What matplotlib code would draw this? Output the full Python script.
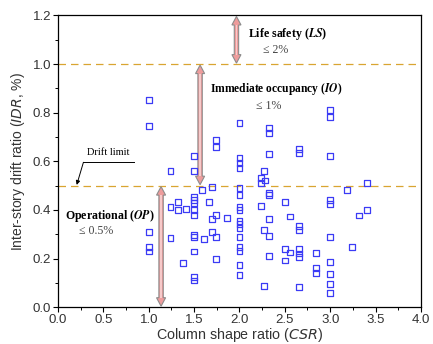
import numpy as np
import matplotlib.pyplot as plt
from matplotlib.patches import Polygon
from matplotlib.ticker import MultipleLocator, FormatStrFormatter

# column shape ratio (CSR) and inter-story drift ratio (IDR, %)
csr = [1.0, 1.0, 1.0, 1.0, 1.0,
       1.24, 1.24, 1.24, 1.32, 1.32, 1.41, 1.38,
       1.5, 1.5, 1.5, 1.5, 1.5, 1.5, 1.5, 1.5, 1.5, 1.5, 1.5, 1.5,
       1.59, 1.61, 1.66, 1.7, 1.7, 1.7, 1.74, 1.74, 1.74, 1.74, 1.74, 1.86,
       2.0, 2.0, 2.0, 2.0, 2.0, 2.0, 2.0, 2.0, 2.0, 2.0, 2.0, 2.0, 2.0, 2.0, 2.0, 2.0,
       2.24, 2.24, 2.24, 2.27, 2.27, 2.28, 2.27,
       2.33, 2.33, 2.33, 2.33, 2.33, 2.33, 2.33, 2.33,
       2.5, 2.5, 2.5, 2.56, 2.56,
       2.66, 2.66, 2.66, 2.66, 2.66, 2.66, 2.66, 2.66,
       2.84, 2.84, 2.84,
       3.0, 3.0, 3.0, 3.0, 3.0, 3.0, 3.0, 3.0, 3.0, 3.0,
       3.19, 3.24, 3.32, 3.41, 3.41]
idr = [0.853, 0.747, 0.310, 0.249, 0.229,
       0.562, 0.411, 0.285, 0.433, 0.399, 0.404, 0.181,
       0.622, 0.560, 0.452, 0.441, 0.430, 0.400, 0.381, 0.296, 0.288, 0.229, 0.123, 0.110,
       0.482, 0.279, 0.432, 0.493, 0.362, 0.311, 0.688, 0.660, 0.378, 0.289, 0.200, 0.366,
       0.756, 0.612, 0.592, 0.571, 0.492, 0.462, 0.411, 0.399, 0.355, 0.342, 0.326, 0.290,
       0.249, 0.232, 0.174, 0.134,
       0.533, 0.512, 0.415, 0.318, 0.562, 0.521, 0.089,
       0.737, 0.715, 0.632, 0.471, 0.460, 0.362, 0.293, 0.211,
       0.432, 0.241, 0.192, 0.373, 0.225,
       0.652, 0.633, 0.333, 0.318, 0.241, 0.221, 0.208, 0.082,
       0.222, 0.160, 0.142,
       0.812, 0.784, 0.623, 0.441, 0.425, 0.288, 0.185, 0.137, 0.097, 0.059,
       0.482, 0.249, 0.377, 0.510, 0.401]

# performance levels: arrow x, lower and upper IDR
levels = [(1.136, 0.0, 0.5), (1.566, 0.5, 1.0), (1.967, 1.0, 1.2)]
limits = [0.5, 1.0]

plt.rcParams['font.family'] = 'Liberation Sans'
fig, ax = plt.subplots(figsize=(4.33, 3.44), dpi=100)
fig.subplots_adjust(left=0.134, right=0.972, bottom=0.107, top=0.955)

for y in limits:
    ax.axhline(y, color='#d9a531', lw=0.9, ls=(0, (6, 4)), zorder=1)

ax.scatter(csr, idr, marker='s', s=18, facecolors='none', edgecolors='#3b3bf5',
           linewidths=0.9, zorder=3)


def double_arrow(x, y0, y1, hw=0.024, headw=0.05, headl=0.035):
    pts = [(x, y0), (x + headw, y0 + headl), (x + hw, y0 + headl),
           (x + hw, y1 - headl), (x + headw, y1 - headl), (x, y1),
           (x - headw, y1 - headl), (x - hw, y1 - headl),
           (x - hw, y0 + headl), (x - headw, y0 + headl)]
    ax.add_patch(Polygon(pts, closed=True, fc='#ee9c9c', ec='#8c8c8c', lw=0.8, zorder=2))
    inner = [(x - hw * 0.35, y0 + headl), (x + hw * 0.35, y0 + headl),
             (x + hw * 0.35, y1 - headl), (x - hw * 0.35, y1 - headl)]
    ax.add_patch(Polygon(inner, closed=True, fc='#f7caca', ec='none', zorder=2))


for x, y0, y1 in levels:
    double_arrow(x, y0 + 0.004, y1 - 0.004)

serif = 'Liberation Serif'
ax.text(2.09, 1.123, r'Life safety ($\mathbfit{LS}$)', family=serif, fontsize=8.6,
        fontweight='bold', va='center', math_fontfamily='stix')
ax.text(2.26, 1.06, '≤ 2%', family=serif, fontsize=8.6, color='#444444', va='center')
ax.text(1.67, 0.897, r'Immediate occupancy ($\mathbfit{IO}$)', family=serif, fontsize=8.3,
        fontweight='bold', va='center', math_fontfamily='stix')
ax.text(2.18, 0.827, '≤ 1%', family=serif, fontsize=8.6, color='#444444', va='center')
ax.text(0.077, 0.374, r'Operational ($\mathbfit{OP}$)', family=serif, fontsize=8.6,
        fontweight='bold', va='center', math_fontfamily='stix')
ax.text(0.23, 0.312, '≤ 0.5%', family=serif, fontsize=8.6, color='#444444', va='center')

ax.text(0.32, 0.636, 'Drift limit', family=serif, fontsize=7.5, va='center')
ax.plot([0.28, 0.84], [0.596, 0.596], color='black', lw=0.7)
ax.annotate('', xy=(0.206, 0.503), xytext=(0.28, 0.596),
            arrowprops=dict(arrowstyle='-|>', color='black', lw=0.7,
                            mutation_scale=6, shrinkA=0, shrinkB=0))

ax.set_xlim(0, 4)
ax.set_ylim(0, 1.2)
ax.xaxis.set_major_locator(MultipleLocator(0.5))
ax.xaxis.set_minor_locator(MultipleLocator(0.25))
ax.yaxis.set_major_locator(MultipleLocator(0.2))
ax.yaxis.set_minor_locator(MultipleLocator(0.1))
ax.xaxis.set_major_formatter(FormatStrFormatter('%.1f'))
ax.yaxis.set_major_formatter(FormatStrFormatter('%.1f'))
ax.tick_params(which='major', direction='out', length=3.5, width=0.8,
               labelsize=9.5, labelcolor='#333333', pad=1.5)
ax.tick_params(which='minor', direction='out', length=2, width=0.7)

ax.set_xlabel('Column shape ratio ($\\it{CSR}$)', fontsize=10.3, color='#333333', labelpad=0)
ax.set_ylabel('Inter-story drift ratio ($\\it{IDR}$, %)', fontsize=10, color='#333333',
              labelpad=4)
for s in ax.spines.values():
    s.set_linewidth(0.9)

plt.savefig('out.png', dpi=100)
